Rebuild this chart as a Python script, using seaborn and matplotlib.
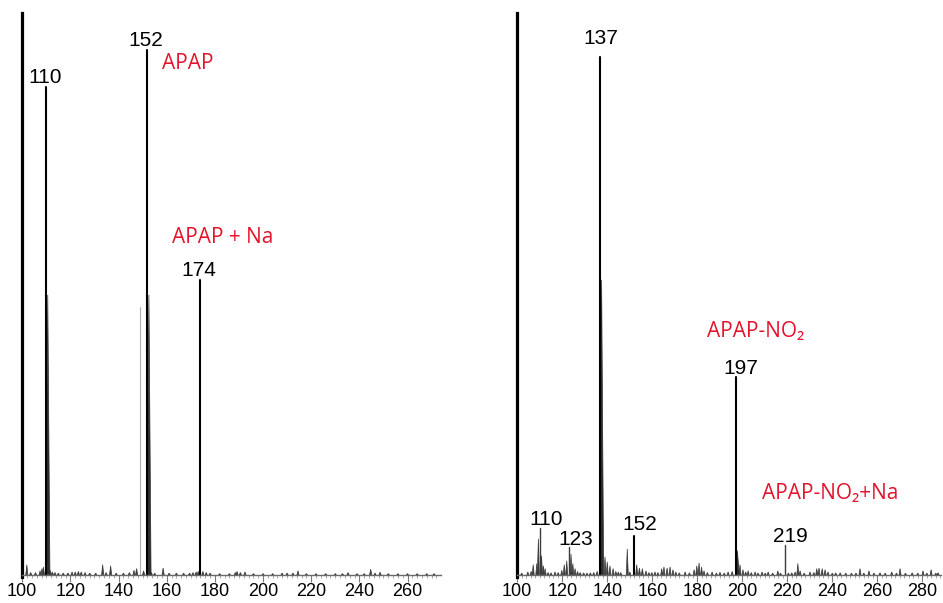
import matplotlib
matplotlib.use("Agg")
import matplotlib.pyplot as plt
from matplotlib.ticker import MultipleLocator
import pandas as pd
import seaborn as sns

# ---------------- APAP spectrum (left panel) ----------------
apap_peak_mz = [110, 152, 174]
apap_peak_int = [86.8, 93.4, 52.5]
apap_peak_labels = ["110", "152", "174"]

apap_shoulder_mz = [110.6, 152.6]
apap_shoulder_int = [49.8, 49.8]

apap_faint_mz = [148.7]
apap_faint_int = [47.7]

apap_minor_mz = [101.9, 103.5, 105.5, 107.4, 108.2, 108.8, 111.6, 112.5, 113.6, 115.0,
                 117.0, 119.0, 120.7, 122.0, 123.3, 124.5, 126.1, 128.0, 130.5, 133.4,
                 134.8, 136.7, 139.0, 142.0, 144.5, 146.4, 147.5, 150.4, 153.6, 155.0,
                 158.5, 161.0, 164.0, 167.0, 169.5, 170.9, 172.2, 173.1, 175.0, 176.4,
                 178.0, 182.0, 186.0, 188.5, 189.2, 190.6, 192.5, 196.0, 200.0, 204.0,
                 207.9, 210.0, 212.4, 214.5, 218.0, 222.0, 226.0, 230.0, 233.0, 235.3,
                 239.0, 242.0, 244.7, 246.5, 248.6, 252.0, 256.0, 260.0, 264.0, 268.0,
                 271.0]
apap_minor_int = [1.8, 0.4, 0.4, 0.7, 1.1, 1.4, 0.8, 0.5, 0.4, 0.3,
                  0.3, 0.3, 0.5, 0.5, 0.6, 0.5, 0.4, 0.3, 0.3, 1.8,
                  0.4, 1.6, 0.3, 0.3, 0.4, 0.8, 1.1, 0.7, 0.4, 0.3,
                  1.2, 0.3, 0.3, 0.3, 0.3, 0.4, 0.5, 0.6, 0.6, 0.4,
                  0.3, 0.2, 0.2, 0.4, 0.6, 0.4, 0.5, 0.2, 0.2, 0.2,
                  0.3, 0.3, 0.3, 0.7, 0.2, 0.2, 0.2, 0.2, 0.2, 0.4,
                  0.2, 0.2, 1.0, 0.3, 0.45, 0.2, 0.2, 0.2, 0.2, 0.2,
                  0.2]

apap_species = ["APAP", "APAP + Na"]
apap_species_pos = [(158.0, 90.0), (162.2, 59.1)]

# ---------------- APAP-NO2 spectrum (right panel) ----------------
no2_peak_mz = [110, 123, 137, 152, 197, 219]
no2_peak_int = [8.4, 5.0, 92.2, 6.9, 35.2, 5.3]
no2_peak_labels = ["110", "123", "137", "152", "197", "219"]

no2_shoulder_mz = [137.5, 197.8]
no2_shoulder_int = [52.5, 4.3]

no2_minor_mz = [102.0, 104.7, 106.2, 107.1, 108.7, 109.4, 110.8, 111.6, 112.4, 113.7,
                115.0, 116.8, 118.2, 119.8, 120.9, 122.0, 123.9, 124.7, 125.7, 126.8,
                128.0, 129.5, 131.0, 132.5, 134.0, 135.5, 139.0, 140.0, 141.2, 142.6,
                143.8, 144.9, 146.0, 148.9, 150.0, 153.1, 154.3, 155.6, 157.2, 158.5,
                159.8, 161.2, 162.5, 164.2, 165.2, 166.6, 167.9, 169.2, 170.5, 172.0,
                174.6, 176.5, 178.6, 179.8, 180.8, 181.9, 183.0, 184.5, 186.6, 188.5,
                190.1, 192.0, 193.7, 195.5, 199.0, 200.3, 201.5, 202.6, 204.0, 205.7,
                207.0, 208.8, 210.2, 211.5, 213.5, 215.8, 217.0, 220.5, 222.0, 223.5,
                224.7, 225.7, 227.5, 230.1, 231.8, 233.1, 234.1, 235.5, 236.8, 238.1,
                240.0, 241.5, 243.5, 246.0, 248.5, 250.5, 252.3, 254.0, 256.3, 258.5,
                261.2, 263.5, 266.4, 268.5, 270.1, 272.5, 275.5, 278.0, 280.3, 282.0,
                283.9, 286.0, 287.0]
no2_minor_int = [0.3, 0.5, 0.6, 1.8, 2.0, 6.4, 3.4, 1.6, 1.1, 0.4,
                 0.35, 0.5, 0.4, 0.8, 1.8, 2.5, 3.7, 2.0, 1.1, 0.6,
                 0.4, 0.35, 0.3, 0.35, 0.4, 0.6, 3.2, 2.3, 1.6, 1.1,
                 0.6, 0.5, 0.4, 4.6, 0.5, 1.8, 1.2, 1.1, 0.7, 0.4,
                 0.4, 0.5, 0.4, 1.1, 1.4, 1.2, 1.4, 0.9, 0.5, 0.35,
                 0.5, 0.35, 0.9, 1.6, 2.1, 1.4, 0.7, 0.4, 0.5, 0.3,
                 0.45, 0.3, 0.5, 0.6, 1.8, 0.9, 0.5, 0.7, 0.4, 0.5,
                 0.3, 0.5, 0.3, 0.5, 0.3, 0.7, 0.3, 0.3, 0.35, 0.5,
                 2.0, 0.7, 0.3, 0.5, 0.4, 1.1, 1.2, 1.1, 0.9, 0.5,
                 0.3, 0.35, 0.35, 0.3, 0.3, 0.3, 1.1, 0.3, 0.7, 0.3,
                 0.35, 0.3, 0.5, 0.3, 1.1, 0.3, 0.35, 0.3, 0.7, 0.3,
                 0.9, 0.3, 0.35]

no2_species = ["APAP-NO\u2082", "APAP-NO\u2082+Na"]
no2_species_pos = [(184.3, 42.3), (208.8, 13.5)]

# ---------------- styling ----------------
RED = "#e3142d"
NUM_FONT = ["Liberation Sans", "DejaVu Sans"]
SPECIES_FONT = ["Open Sans", "DejaVu Sans"]

sns.set_theme(style="white")
plt.rcParams["font.family"] = NUM_FONT


def stick_frame(mz, inten):
    rows = []
    for i, (m, h) in enumerate(zip(mz, inten)):
        rows.append((i, m, 0.0))
        rows.append((i, m, h))
    return pd.DataFrame(rows, columns=["peak", "mz", "intensity"])


def draw_sticks(ax, mz, inten, color, lw):
    df = stick_frame(mz, inten)
    sns.lineplot(data=df, x="mz", y="intensity", units="peak", estimator=None,
                 sort=False, color=color, lw=lw, ax=ax, legend=False)


def draw_spikes(ax, mz, inten, half, color):
    for m, h in zip(mz, inten):
        ax.fill([m - half, m, m + half], [0, h, 0], color=color, lw=0.5,
                edgecolor=color)


def setup_axis(ax, xlim):
    ax.set_xlim(*xlim)
    ax.set_ylim(-0.4, 100)
    for side in ("top", "right"):
        ax.spines[side].set_visible(False)
    ax.spines["left"].set_color("black")
    ax.spines["left"].set_linewidth(2.3)
    ax.spines["bottom"].set_position(("data", 0))
    ax.spines["bottom"].set_color("#6a6a6a")
    ax.spines["bottom"].set_linewidth(1.0)
    ax.set_yticks([])
    ax.xaxis.set_major_locator(MultipleLocator(20))
    ax.xaxis.set_minor_locator(MultipleLocator(2))
    ax.tick_params(axis="x", which="major", bottom=True, length=5, width=0.8,
                   color="#7a7a7a", pad=1.2, labelsize=13, labelcolor="black")
    ax.tick_params(axis="x", which="minor", bottom=True, length=2.5, width=0.6,
                   color="#9a9a9a")


def finish_axis(ax):
    ax.xaxis.label.set_visible(False)
    ax.yaxis.label.set_visible(False)
    ax.grid(False)


fig = plt.figure(figsize=(9.43, 6.03), dpi=100)
ax_l = fig.add_axes([22 / 943, 26 / 603, 419 / 943, 564 / 603])
ax_r = fig.add_axes([517 / 943, 26 / 603, 424 / 943, 564 / 603])

# left panel: APAP
setup_axis(ax_l, (99.9, 273.9))
draw_spikes(ax_l, apap_minor_mz, apap_minor_int, 0.45, "#3c3c3c")
draw_spikes(ax_l, apap_shoulder_mz, apap_shoulder_int, 0.9, "#2e2e2e")
draw_sticks(ax_l, apap_faint_mz, apap_faint_int, "#b0b0b0", 0.8)
draw_sticks(ax_l, apap_peak_mz, apap_peak_int, "black", 1.5)
for m, h, t in zip(apap_peak_mz, apap_peak_int, apap_peak_labels):
    ax_l.annotate(t, xy=(m, h), xytext=(-1, 3), textcoords="offset points",
                  ha="center", va="baseline", fontsize=15, color="black")
for t, (x, y) in zip(apap_species, apap_species_pos):
    ax_l.text(x, y, t, ha="left", va="baseline", fontsize=15, color=RED,
              family=SPECIES_FONT)
finish_axis(ax_l)

# right panel: APAP-NO2
setup_axis(ax_r, (99.9, 288.3))
draw_spikes(ax_r, no2_minor_mz, no2_minor_int, 0.45, "#3c3c3c")
draw_spikes(ax_r, no2_shoulder_mz, no2_shoulder_int, 0.9, "#2e2e2e")
no2_stick_colors = ["#3c3c3c", "#3c3c3c", "black", "black", "black", "#3c3c3c"]
no2_stick_widths = [1.0, 1.0, 1.5, 1.5, 1.5, 1.0]
for m, h, c, w in zip(no2_peak_mz, no2_peak_int, no2_stick_colors, no2_stick_widths):
    draw_sticks(ax_r, [m], [h], c, w)
no2_label_offsets = [(4.5, 1.5), (5, 1.5), (0, 9.5), (4.2, 4.3), (4, 2.2), (4, 2.2)]
for m, h, t, (dx, dy) in zip(no2_peak_mz, no2_peak_int, no2_peak_labels,
                             no2_label_offsets):
    ax_r.annotate(t, xy=(m, h), xytext=(dx, dy), textcoords="offset points",
                  ha="center", va="baseline", fontsize=15, color="black")
for t, (x, y) in zip(no2_species, no2_species_pos):
    ax_r.text(x, y, t, ha="left", va="baseline", fontsize=15, color=RED,
              family=SPECIES_FONT)
finish_axis(ax_r)

fig.savefig("out.png", dpi=100, facecolor="white")
